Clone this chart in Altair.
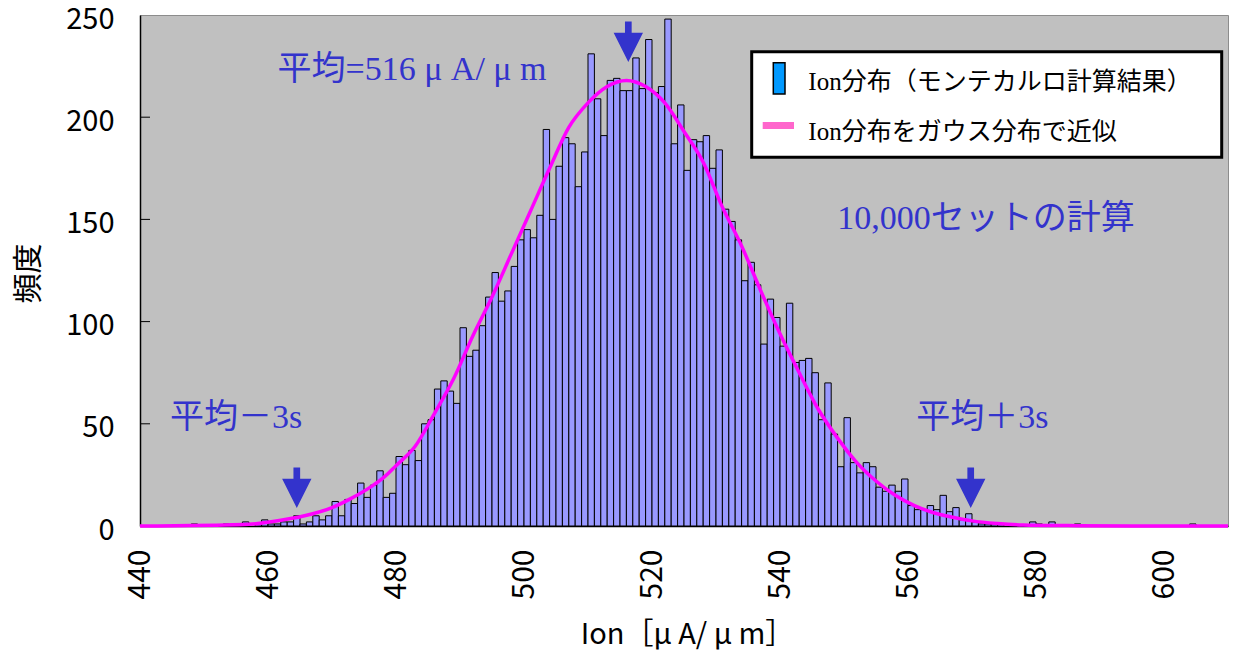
import altair as alt
import pandas as pd

# ---------------- data ----------------
bin_start = [448, 453, 456, 458, 459, 460, 461, 462, 463, 464, 465, 466, 467, 468, 469,
             470, 471, 472, 473, 474, 475, 476, 477, 478, 479,
             480, 481, 482, 483, 484, 485, 486, 487, 488, 489,
             490, 491, 492, 493, 494, 495, 496, 497, 498, 499,
             500, 501, 502, 503, 504, 505, 506, 507, 508, 509,
             510, 511, 512, 513, 514, 515, 516, 517, 518, 519,
             520, 521, 522, 523, 524, 525, 526, 527, 528, 529,
             530, 531, 532, 533, 534, 535, 536, 537, 538, 539,
             540, 541, 542, 543, 544, 545, 546, 547, 548, 549,
             550, 551, 552, 553, 554, 555, 556, 557, 558, 559,
             560, 561, 562, 563, 564, 565, 566, 567, 568, 569,
             570, 571, 572, 573, 574, 579, 580, 582, 586, 604]
counts = [1, 1, 2, 1, 3, 1, 1, 2, 2, 5, 1, 2, 5, 3, 5,
          12, 5, 13, 11, 21, 14, 20, 27, 14, 16,
          34, 30, 37, 32, 50, 52, 67, 71, 66, 60,
          97, 83, 86, 98, 112, 124, 110, 115, 127, 140,
          145, 141, 152, 194, 150, 176, 190, 187, 166, 183,
          231, 209, 191, 218, 219, 213, 213, 229, 214, 238,
          212, 215, 248, 187, 206, 174, 189, 188, 191, 175,
          184, 155, 149, 140, 120, 129, 118, 89, 111, 102,
          88, 109, 80, 81, 82, 75, 52, 70, 45, 29,
          53, 31, 26, 31, 29, 19, 17, 20, 17, 23,
          10, 8, 8, 10, 8, 15, 7, 9, 3, 6,
          2, 1, 1, 1, 1, 2, 1, 2, 1, 1]

curve_x = [440, 448, 452, 457, 462, 467, 470, 473, 476, 478, 480, 483, 486, 489, 492,
           495, 498, 501, 504, 507, 510, 513, 516, 519, 522, 525, 528, 531, 534, 537,
           540, 543, 546, 549, 552, 555, 558, 561, 564, 567, 570, 574, 578, 585, 595, 610]
curve_y = [0, 0.2, 0.4, 0.8, 2.8, 6, 9, 13.5, 19, 23.5, 29.5, 39, 55, 72, 93,
           112, 133, 154, 175, 195, 207, 215, 218, 215, 207, 193, 178, 156, 137, 115,
           94, 75, 57, 43, 31, 22, 15, 10, 6.5, 4.3, 2.5, 1.2, 0.5, 0.2, 0, 0]

x_ticks = [440, 460, 480, 500, 520, 540, 560, 580, 600]
y_ticks = [0, 50, 100, 150, 200, 250]
inner_ticks = [50, 100, 150, 200]

note_text = ["平均=516 μ A/ μ m", "平均－3s", "平均＋3s", "10,000セットの計算"]
note_x = [482.5, 455.0, 571.6, 572.2]
note_y = [223, 53, 53, 150]

arrow_x = [516.3, 464.5, 569.8]
arrow_y = [236.9, 18.7, 18.7]

legend_labels = ["Ion分布（モンテカルロ計算結果）", "Ion分布をガウス分布で近似"]

# ---------------- styling ----------------
GOTHIC = "Noto Sans CJK JP"
MIX = "Liberation Serif, Noto Sans CJK JP"
BLUE = "#3333cc"
W, H = 1088, 511

xscale = alt.Scale(domain=[440, 610], nice=False, zero=False)
yscale = alt.Scale(domain=[0, 250], nice=False, zero=True)

bars_df = pd.DataFrame({"start": bin_start,
                        "end": [b + 1 for b in bin_start],
                        "count": counts,
                        "zero": [0] * len(counts)})
curve_df = pd.DataFrame({"x": curve_x, "y": curve_y})
notes_df = pd.DataFrame({"x": note_x, "y": note_y, "label": note_text})
arrows_df = pd.DataFrame({"x": arrow_x, "y": arrow_y})
ticks_df = pd.DataFrame({"v": inner_ticks})
one = pd.DataFrame({"a": [0]})

bars = alt.Chart(bars_df).mark_rect(fill="#9999ff", stroke="black", strokeWidth=1).encode(
    x=alt.X("start:Q", scale=xscale,
            axis=alt.Axis(values=x_ticks, labelAngle=270, labelFont=GOTHIC, labelFontSize=30,
                          labelColor="black", ticks=False, grid=False, domainColor="black",
                          domainWidth=1.5, labelPadding=23, labelFlush=False, labelOverlap=False,
                          title="Ion［μ A/ μ m］", titleFont=GOTHIC, titleFontSize=29,
                          titleFontWeight="normal", titleColor="black", titleY=117,
                          titleX=547, titleBaseline="alphabetic")),
    x2="end:Q",
    y=alt.Y("count:Q", scale=yscale,
            axis=alt.Axis(values=y_ticks, labelFont=GOTHIC, labelFontSize=29, labelColor="black",
                          ticks=False, grid=False, domainColor="black", domainWidth=1.5,
                          labelPadding=26, labelFlush=False, labelOverlap=False, labelOffset=4,
                          title="頻度", titleFont=GOTHIC, titleFontSize=30,
                          titleFontWeight="normal", titleColor="black", titleAngle=270,
                          titleX=-112, titleY=258, titleAlign="center", titleBaseline="middle")),
    y2="zero:Q",
)

inner = alt.Chart(ticks_df).mark_rule(color="black", strokeWidth=1).encode(
    y=alt.Y("v:Q", scale=yscale, axis=None),
    x=alt.value(0), x2=alt.value(10),
)

curve = alt.Chart(curve_df).mark_line(color="#ff00ff", strokeWidth=3.5, interpolate="monotone").encode(
    x=alt.X("x:Q", scale=xscale, axis=None),
    y=alt.Y("y:Q", scale=yscale, axis=None),
)

ARROW = "M-0.165,-1L0.165,-1L0.165,-0.44L0.725,-0.44L0,1L-0.725,-0.44L-0.165,-0.44Z"
arrows = alt.Chart(arrows_df).mark_point(shape=ARROW, filled=True, fill=BLUE, size=1640,
                                         strokeWidth=0, opacity=1).encode(
    x=alt.X("x:Q", scale=xscale, axis=None),
    y=alt.Y("y:Q", scale=yscale, axis=None),
)

notes = alt.Chart(notes_df).mark_text(font=MIX, fontSize=34, color=BLUE, align="center",
                                      baseline="middle").encode(
    x=alt.X("x:Q", scale=xscale, axis=None),
    y=alt.Y("y:Q", scale=yscale, axis=None),
    text="label:N",
)

# legend box drawn by hand
leg_box = alt.Chart(one).mark_rect(fill="white", stroke="black", strokeWidth=3).encode(
    x=alt.value(611.7), x2=alt.value(1081.7), y=alt.value(36.7), y2=alt.value(142.3))
leg_bar = alt.Chart(one).mark_rect(fill="#0099ff", stroke="black", strokeWidth=1.5).encode(
    x=alt.value(633.3), x2=alt.value(645), y=alt.value(47.7), y2=alt.value(79))
leg_line = alt.Chart(one).mark_rule(color="#ff66cc", strokeWidth=7).encode(
    x=alt.value(622.7), x2=alt.value(654), y=alt.value(110.5))
leg_t1 = alt.Chart(one).mark_text(font=MIX, fontSize=25, color="black", align="left",
                                  baseline="middle", text=legend_labels[0]).encode(
    x=alt.value(668.3), y=alt.value(67))
leg_t2 = alt.Chart(one).mark_text(font=MIX, fontSize=25, color="black", align="left",
                                  baseline="middle", text=legend_labels[1]).encode(
    x=alt.value(668.3), y=alt.value(117))

chart = alt.layer(bars, inner, curve, arrows, notes, leg_box, leg_bar, leg_line, leg_t1, leg_t2).resolve_axis(
    x="independent", y="independent"
).properties(
    width=W, height=H,
    autosize=alt.AutoSizeParams(type="none"),
    padding={"left": 140, "top": 15, "right": 8, "bottom": 127},
    background="white",
).configure_view(fill="#c0c0c0", stroke="#8c8c8c", strokeWidth=1)

chart.save("out.html", embed_options={"renderer": "svg", "actions": False})
